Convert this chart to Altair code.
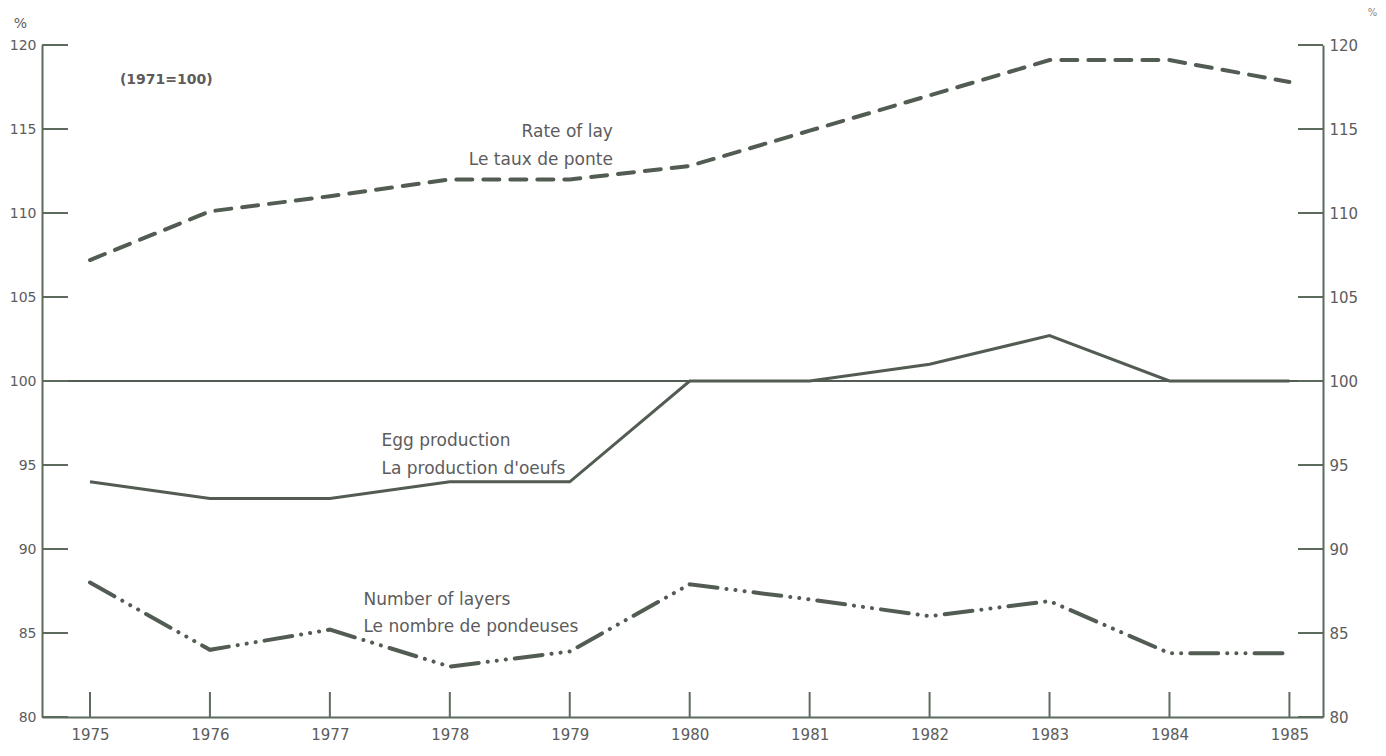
import altair as alt
import pandas as pd

years = list(range(1975, 1986))
rate_of_lay = [107.2, 110.1, 111.0, 112.0, 112.0, 112.8, 114.9, 117.0, 119.1, 119.1, 117.8]
egg_production = [94.0, 93.0, 93.0, 94.0, 94.0, 100.0, 100.0, 101.0, 102.7, 100.0, 100.0]
number_of_layers = [88.0, 84.0, 85.2, 83.0, 83.9, 87.9, 87.0, 86.0, 86.9, 83.8, 83.8]
y_ticks = [80, 85, 90, 95, 100, 105, 110, 115, 120]

label_text = ["Rate of lay", "Le taux de ponte", "Egg production", "La production d'oeufs",
              "Number of layers", "Le nombre de pondeuses"]
label_year = [1979.36, 1979.36, 1977.43, 1977.43, 1977.28, 1977.28]
label_value = [114.8, 113.15, 96.4, 94.75, 86.98, 85.33]
label_align = ["right", "right", "left", "left", "left", "left"]

W, H = 1281, 672
INK = "#525c52"
AXIS = "#5d6b5d"
TXT = "#5c5c5c"
FONT = "DejaVu Sans"

df = pd.DataFrame({"year": years, "rate": rate_of_lay, "egg": egg_production, "layers": number_of_layers})
ticks_df = pd.DataFrame({"v": y_ticks})
years_df = pd.DataFrame({"year": years})
lab_df = pd.DataFrame({"text": label_text, "year": label_year, "value": label_value, "align": label_align})

xs = alt.Scale(domain=[1974.6, 1985.28], nice=False, zero=False)
ys = alt.Scale(domain=[80, 120], nice=False, zero=False)

base = alt.Chart(df)

left_axis = alt.Axis(values=y_ticks, ticks=False, domain=True, domainColor=AXIS, domainWidth=2,
                     labelFontSize=14, labelColor=TXT, labelFont=FONT, labelPadding=6, grid=False,
                     title="%", titleAngle=0, titleX=-22, titleY=-22, titleAlign="center",
                     titleBaseline="middle", titleFontSize=14, titleFontWeight="normal",
                     titleColor=TXT, titleFont=FONT)
right_axis = alt.Axis(orient="right", values=y_ticks, ticks=False, domain=True, domainColor=AXIS,
                      domainWidth=2, labelFontSize=15, labelColor=TXT, labelFont=FONT, labelPadding=6,
                      grid=False, title="%", titleAngle=0, titleX=49, titleY=-33, titleAlign="center",
                      titleBaseline="middle", titleFontSize=10, titleFontWeight="normal",
                      titleColor="#888888", titleFont=FONT)
x_axis = alt.Axis(values=years, format="d", ticks=False, domain=True, domainColor=AXIS, domainWidth=2,
                  labelFontSize=15, labelColor=TXT, labelFont=FONT, labelPadding=10, grid=False,
                  title=None)

rate_line = base.mark_line(color=INK, strokeWidth=4, strokeDash=[16, 11], strokeCap="round").encode(
    x=alt.X("year:Q", scale=xs, axis=x_axis),
    y=alt.Y("rate:Q", scale=ys, axis=left_axis),
)
egg_line = base.mark_line(color=INK, strokeWidth=3).encode(
    x=alt.X("year:Q", scale=xs, axis=None),
    y=alt.Y("egg:Q", scale=ys, axis=right_axis),
)
layers_line = base.mark_line(color=INK, strokeWidth=4, strokeCap="round",
                             strokeDash=[28, 9, 0.1, 9, 0.1, 9, 0.1, 9]).encode(
    x=alt.X("year:Q", scale=xs, axis=None),
    y=alt.Y("layers:Q", scale=ys, axis=None),
)

ref_100 = alt.Chart(pd.DataFrame({"v": [100]})).mark_rule(color=INK, strokeWidth=1.8).encode(
    y=alt.Y("v:Q", scale=ys, axis=None), x=alt.value(0), x2=alt.value(W))

left_ticks = alt.Chart(ticks_df).mark_rule(color=AXIS, strokeWidth=2).encode(
    y=alt.Y("v:Q", scale=ys, axis=None), x=alt.value(0), x2=alt.value(26))
right_ticks = alt.Chart(ticks_df).mark_rule(color=AXIS, strokeWidth=2).encode(
    y=alt.Y("v:Q", scale=ys, axis=None), x=alt.value(W - 25), x2=alt.value(W))
x_ticks = alt.Chart(years_df).mark_rule(color=AXIS, strokeWidth=2).encode(
    x=alt.X("year:Q", scale=xs, axis=None), y=alt.value(H), y2=alt.value(H - 25))

labels_right = alt.Chart(lab_df[lab_df["align"] == "right"]).mark_text(
    align="right", baseline="middle", fontSize=17, font=FONT, color=TXT).encode(
    x=alt.X("year:Q", scale=xs, axis=None), y=alt.Y("value:Q", scale=ys, axis=None), text="text:N")
labels_left = alt.Chart(lab_df[lab_df["align"] == "left"]).mark_text(
    align="left", baseline="middle", fontSize=17, font=FONT, color=TXT).encode(
    x=alt.X("year:Q", scale=xs, axis=None), y=alt.Y("value:Q", scale=ys, axis=None), text="text:N")

base_note = alt.Chart(pd.DataFrame({"text": ["(1971=100)"], "year": [1975.25], "value": [117.93]})).mark_text(
    align="left", baseline="middle", fontSize=14, font=FONT, fontWeight="bold", color=TXT).encode(
    x=alt.X("year:Q", scale=xs, axis=None), y=alt.Y("value:Q", scale=ys, axis=None), text="text:N")

chart = alt.layer(
    ref_100, left_ticks, right_ticks, x_ticks, rate_line, egg_line, layers_line,
    labels_right, labels_left, base_note
).resolve_axis(x="independent", y="independent").properties(
    width=W, height=H,
    autosize=alt.AutoSizeParams(type="none"),
    padding={"left": 34, "top": 37, "right": 55, "bottom": 31},
    background="white",
).configure_view(stroke=None)

chart.save("out.html", embed_options={"renderer": "svg", "actions": False})
